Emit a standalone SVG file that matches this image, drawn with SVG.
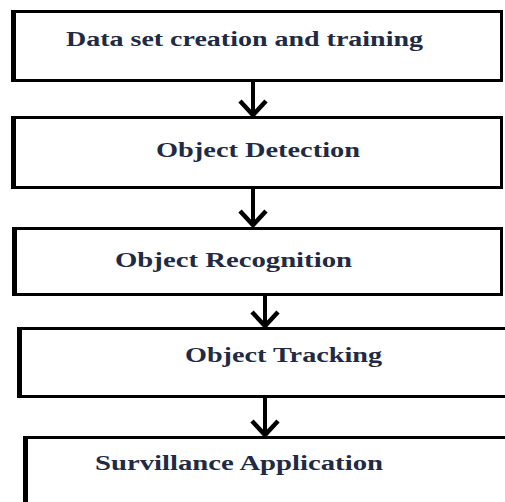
<svg xmlns="http://www.w3.org/2000/svg" width="505" height="502" viewBox="0 0 505 502">
  <style>
    .box { fill: #ffffff; stroke: #000000; stroke-width: 3; }
    .edge { stroke: #000000; stroke-width: 5; }
    .label { font-family: "Liberation Serif", "Times New Roman", serif; font-size: 20px; font-weight: bold; fill: #1f2a44; }
    .link { stroke: #000000; stroke-width: 4; fill: none; marker-end: url(#chevron); }
  </style>
  <defs>
    <marker id="chevron" markerUnits="userSpaceOnUse" viewBox="-18 -16 20 32" refX="0" refY="0" markerWidth="20" markerHeight="32" orient="auto">
      <polyline points="-15,-13 -1,0 -15,13" fill="none" stroke="#000000" stroke-width="4.5" stroke-linejoin="miter"/>
    </marker>
  </defs>
  <rect width="505" height="502" fill="#ffffff"/>

  <g id="connectors">
    <line class="link" x1="253" y1="81" x2="253" y2="116"/>
    <line class="link" x1="253" y1="189" x2="253" y2="226"/>
    <line class="link" x1="265" y1="293" x2="265" y2="327"/>
    <line class="link" x1="265" y1="398" x2="265" y2="436"/>
  </g>

  <g id="dataset">
    <rect class="box" x="12.5" y="11.5" width="489" height="69"/>
    <line class="edge" x1="13.5" y1="10" x2="13.5" y2="82"/>
    <text class="label" x="66" y="46" textLength="357" lengthAdjust="spacingAndGlyphs">Data set creation and training</text>
  </g>

  <g id="detection">
    <rect class="box" x="12.5" y="117.5" width="489" height="70"/>
    <line class="edge" x1="13.5" y1="116" x2="13.5" y2="189"/>
    <text class="label" x="156" y="157" textLength="204" lengthAdjust="spacingAndGlyphs">Object Detection</text>
  </g>

  <g id="recognition">
    <rect class="box" x="13.5" y="228.5" width="488" height="66"/>
    <line class="edge" x1="14.5" y1="227" x2="14.5" y2="296"/>
    <text class="label" x="115" y="267" textLength="237" lengthAdjust="spacingAndGlyphs">Object Recognition</text>
  </g>

  <g id="tracking">
    <rect class="box" x="18.5" y="328.5" width="500" height="68"/>
    <line class="edge" x1="19.5" y1="327" x2="19.5" y2="398"/>
    <text class="label" x="185" y="362" textLength="197" lengthAdjust="spacingAndGlyphs">Object Tracking</text>
  </g>

  <g id="surveillance">
    <rect class="box" x="24.5" y="437.5" width="500" height="80"/>
    <line class="edge" x1="25.5" y1="436" x2="25.5" y2="502"/>
    <text class="label" x="95" y="470" textLength="288" lengthAdjust="spacingAndGlyphs">Survillance Application</text>
  </g>
</svg>
